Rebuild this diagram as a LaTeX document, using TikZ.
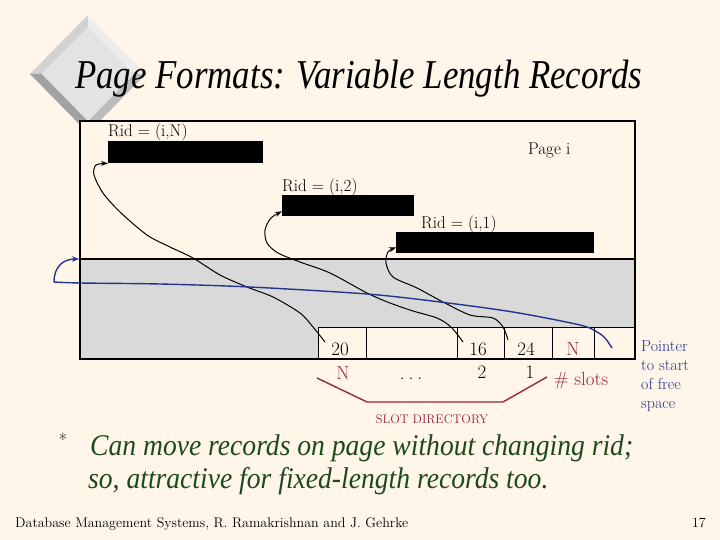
\documentclass[tikz,border=0pt]{standalone}
\usepackage{graphicx}
\usepackage{fontspec}
\newfontfamily\titlefont{Liberation Serif}
\usetikzlibrary{arrows.meta}
\definecolor{bg}{HTML}{FFF5E9}
\definecolor{greyfill}{HTML}{D9D9D9}
\definecolor{maroon}{HTML}{9B2438}
\definecolor{ptrblue}{HTML}{23358F}
\definecolor{textgreen}{HTML}{1C4A1C}
\definecolor{dA}{HTML}{D2D2D2}
\definecolor{dB}{HTML}{EDEDED}
\definecolor{dC}{HTML}{BCBCBC}
\definecolor{dD}{HTML}{A2A2A2}
\definecolor{dE}{HTML}{E3E3E3}
\tikzset{
  cell/.style={draw, line width=1.3pt, fill=bg, minimum height=32pt, inner sep=0pt, anchor=north west},
  recbar/.style={fill=black, inner sep=0pt, anchor=north west},
  ptr/.style={line width=1pt, -{Stealth[length=7pt,width=5pt]}},
  blueptr/.style={line width=1.4pt, ptrblue, -{Stealth[length=7pt,width=5.5pt]}},
  lbl/.style={font=\fontsize{17}{20}\selectfont, inner sep=0pt, anchor=base west},
  num/.style={font=\fontsize{19}{22}\selectfont, inner sep=0pt, anchor=base},
  greenline/.style={inner sep=0pt, anchor=base west, text=textgreen, font=\titlefont\itshape\fontsize{30}{34}\selectfont},
}
\begin{document}
\begin{tikzpicture}[x=1pt,y=-1pt]
\useasboundingbox (0,0) rectangle (720,540);
\fill[bg] (0,0) rectangle (720,540);
% diamond logo
\fill[dA] (30,74) -- (88,15) -- (88,27) -- (42,74) -- cycle;
\fill[dB] (88,15) -- (146,74) -- (134,74) -- (88,27) -- cycle;
\fill[dC] (146,74) -- (88,133) -- (88,121) -- (134,74) -- cycle;
\fill[dD] (88,133) -- (30,74) -- (42,74) -- (88,121) -- cycle;
\fill[dE] (88,27) -- (134,74) -- (88,121) -- (42,74) -- cycle;
% title
\node[inner sep=0pt, anchor=base west, font=\titlefont\itshape\fontsize{41}{48}\selectfont] (title) at (75,89) {\scalebox{0.85}[1]{Page Formats: Variable Length Records}};
% page box
\fill[bg] (80,121) rectangle (635,359);
\fill[greyfill] (80,259) -- (635,259) -- (635,327) -- (318,327) -- (318,359) -- (80,359) -- cycle;
\draw[line width=1.2pt] (80,259) -- (635,259);
% records
\node[recbar, minimum width=155pt, minimum height=22pt] (recN) at (108,141) {};
\node[recbar, minimum width=132pt, minimum height=21pt] (rec2) at (282,195) {};
\node[recbar, minimum width=198pt, minimum height=21pt] (rec1) at (396,232) {};
\node[lbl] (lN) at (108,137) {Rid = (i,N)};
\node[lbl] (l2) at (282,192) {Rid = (i,2)};
\node[lbl] (l1) at (421,229) {Rid = (i,1)};
\node[lbl] (pagei) at (528,155) {Page i};
% slot cells
\node[cell, minimum width=48pt] (c20) at (318,327) {};
\node[cell, minimum width=91pt] (cdots) at (366,327) {};
\node[cell, minimum width=47pt] (c16) at (457,327) {};
\node[cell, minimum width=48pt] (c24) at (504,327) {};
\node[cell, minimum width=42pt] (cN) at (552,327) {};
\node[cell, minimum width=41pt] (cfree) at (594,327) {};
\draw[line width=1.3pt] (80,121) rectangle (635,359);
\node[num] (t20) at (340,355) {20};
\node[num] (t16) at (478,355) {16};
\node[num] (t24) at (526,355) {24};
\node[num, text=maroon] (tN) at (573,355) {N};
% slot labels
\node[num, text=maroon] (bN) at (343,379) {N};
\node[num] (bdots) at (411,379) {.\hspace{4pt}.\hspace{4pt}.};
\node[num] (b2) at (482,378) {2};
\node[num] (b1) at (530,378) {1};
\node[num, text=maroon] (bslots) at (581,385) {\# slots};
\coordinate (br1) at (317,378);
\coordinate (br2) at (367,402);
\coordinate (br3) at (503,402);
\coordinate (br4) at (547,377);
\draw[maroon, line width=1.4pt] (br1) -- (br2) -- (br3) -- (br4);
\node[inner sep=0pt, anchor=base, text=maroon, font=\fontsize{12.5}{15}\selectfont] (sd) at (432,423) {SLOT DIRECTORY};
% pointer text
\node[inner sep=0pt, anchor=north west, align=left, text=ptrblue, font=\fontsize{16}{19}\selectfont] (ptrtxt) at (641,340) {Pointer\\to start\\of free\\space};
% record pointers
\draw[ptr] plot[smooth, tension=0.5] coordinates {(325,342) (313,327) (300,313) (273,297) (247,287) (220,275) (193,258) (170,247) (147,235) (120,212) (103,193) (94,175) (96,165) (recN.south west)};
\draw[ptr] plot[smooth, tension=0.5] coordinates {(463,342) (451,327) (437,318) (413,311) (390,303) (367,293) (330,273) (300,262) (278,253) (267,243) (265,230) (271,218) ([yshift=5pt]rec2.south west)};
\draw[ptr] plot[smooth, tension=0.5] coordinates {(508,340) (503,327) (493,318) (470,315) (443,302) (417,288) (393,277) (386,263) (388,252) ([yshift=6pt]rec1.south west)};
% free space pointer
\coordinate (freestart) at (79,259);
\draw[blueptr] plot[smooth, tension=0.5] coordinates {(612,348) (605,338) (597,332) (580,325) (513,312) (440,302) (367,294) (250,287) (160,284) (80,283) (54,282)} .. controls (54,266) and (64,259) .. (freestart);
% bullet text
\node[inner sep=0pt, anchor=center, font=\fontsize{18}{20}\selectfont] (bullet) at (63,440) {*};
\node[greenline] (g1) at (90,455) {\scalebox{0.92}[1]{Can move records on page without changing rid;}};
\node[greenline] (g2) at (88,488) {\scalebox{0.92}[1]{so, attractive for fixed-length records too.}};
% footer
\node[inner sep=0pt, anchor=base west, font=\fontsize{14}{16}\selectfont] (foot) at (15,527) {Database Management Systems, R. Ramakrishnan and J. Gehrke};
\node[inner sep=0pt, anchor=base east, font=\fontsize{14}{16}\selectfont] (pg) at (706,527) {17};
\end{tikzpicture}
\end{document}
